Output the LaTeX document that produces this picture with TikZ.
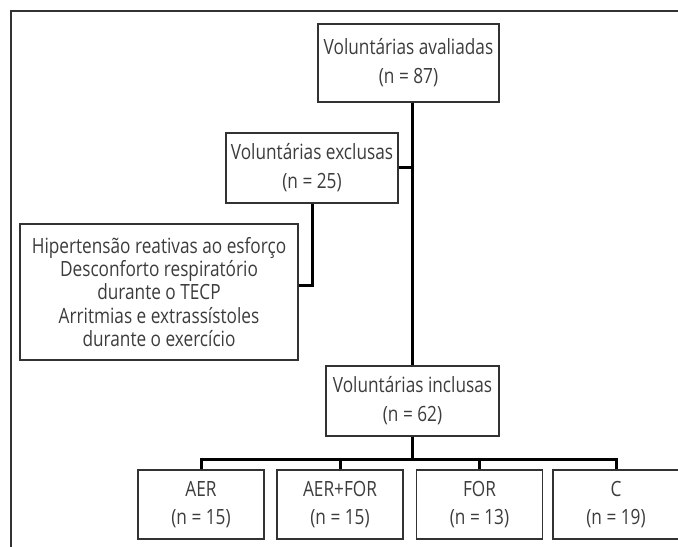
\documentclass[tikz,border=0pt]{standalone}
\usepackage{fontspec}
\setmainfont{Open Sans}[FakeStretch=0.82]
\usetikzlibrary{positioning}
\definecolor{boxgray}{RGB}{50,50,50}
\definecolor{textgray}{RGB}{60,60,60}

\begin{document}
\begin{tikzpicture}[x=1bp,y=-1bp]
            \tikzset{every node/.style={rectangle, draw=boxgray, line width=1.3bp, text=textgray,
                        inner sep=0pt, align=center, font=\fontsize{21bp}{29bp}\selectfont},
                    groupbox/.style={minimum width=126bp, minimum height=69bp, font=\fontsize{21bp}{28bp}\selectfont},
                    link/.style={draw=black, line width=3bp}}
            \useasboundingbox (0,0) rectangle (678,547);
            \draw[draw=boxgray, line width=2bp] (11,547) -- (11,11) -- (678,11);
            \node[minimum width=181bp, minimum height=78bp] (aval) at (408.5,63) {Voluntárias avaliadas\\(n = 87)};
            \node[minimum width=172bp, minimum height=70bp] (excl) at (312,168) {Voluntárias exclusas\\(n = 25)};
            \node[minimum width=278bp, minimum height=136bp, font=\fontsize{21bp}{23.3bp}\selectfont] (motivos) at (159,292)
                {Hipertensão reativas ao esforço\\Desconforto respiratório\\durante o TECP\\Arritmias e extrassístoles\\durante o exercício};
            \node[minimum width=173bp, minimum height=70bp] (incl) at (412.5,401) {Voluntárias inclusas\\(n = 62)};
            \node[groupbox] (aer) at (201,504.5) {AER\\(n = 15)};
            \node[groupbox] (aerfor) at (340,504.5) {AER+FOR\\(n = 15)};
            \node[groupbox] (forc) at (479.5,504.5) {FOR\\(n = 13)};
            \node[groupbox] (ctrl) at (616,504.5) {C\\(n = 19)};
            \coordinate (bus) at (412.5,459.5);
            \draw[link] (aval.south -| incl.north) -- (incl.north);
            \draw[link] (excl.east) -- (excl.east -| incl.north);
            \draw[link] (excl.south) |- ([yshift=7bp]motivos.east);
            \draw[link] (incl.south) -- (bus);
            \foreach \n in {aer,aerfor,forc,ctrl}
                \draw[link] (bus) -| (\n.north);
        \end{tikzpicture}
\end{document}
